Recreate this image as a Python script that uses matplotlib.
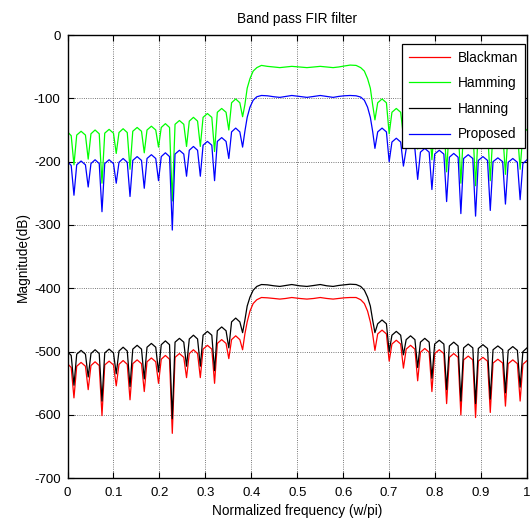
import matplotlib
matplotlib.use('Agg')
import matplotlib.pyplot as plt

plt.rcParams['font.family'] = ['Liberation Sans', 'DejaVu Sans']
plt.rcParams['axes.unicode_minus'] = False

# shared frequency grid (w/pi): nulls, lobe shoulders and lobe tops
freq = [0.000, 0.008,
        0.014, 0.020, 0.0295, 0.039,
        0.045, 0.051, 0.060, 0.069,
        0.075, 0.081, 0.0905, 0.100,
        0.106, 0.112, 0.121, 0.130,
        0.136, 0.142, 0.1515, 0.161,
        0.167, 0.173, 0.1825, 0.192,
        0.198, 0.204, 0.213, 0.222,
        0.228, 0.234, 0.2435, 0.253,
        0.259, 0.265, 0.274, 0.283,
        0.289, 0.295, 0.3045, 0.314,
        0.320, 0.326, 0.3355, 0.345,
        0.351, 0.357, 0.366, 0.375,
        0.381, 0.386, 0.391, 0.397, 0.404, 0.412, 0.422,
        0.435, 0.449, 0.462, 0.475, 0.488, 0.505, 0.521, 0.536, 0.550, 0.564, 0.578, 0.590, 0.602, 0.615,
        0.628, 0.638, 0.646, 0.653, 0.659, 0.664,
        0.669, 0.675, 0.6845, 0.694,
        0.700, 0.706, 0.7155, 0.725,
        0.731, 0.737, 0.7465, 0.756,
        0.762, 0.768, 0.7775, 0.787,
        0.793, 0.799, 0.809, 0.819,
        0.825, 0.831, 0.8405, 0.850,
        0.856, 0.862, 0.872, 0.882,
        0.888, 0.894, 0.904, 0.914,
        0.920, 0.926, 0.9365, 0.947,
        0.953, 0.959, 0.969, 0.979,
        0.985, 0.991, 1.000]

blackman = [-519, -525,
            -573, -523, -517, -523,
            -560, -522, -516, -522,
            -601, -521, -515, -521,
            -554, -520, -514, -520,
            -576, -519, -513, -519,
            -563, -516, -510, -516,
            -550, -512, -506, -512,
            -629, -509, -503, -509,
            -541, -503, -497, -503,
            -541, -496, -490, -496,
            -550, -487, -481, -487,
            -511, -481, -475, -481,
            -497, -472, -453, -436, -424, -418, -414.5,
            -415, -416, -417, -416, -414.5, -416, -417, -416, -414.5, -416, -417, -416, -415, -414.5,
            -414.5, -418, -424, -436, -453, -472,
            -498, -472, -466, -472,
            -515, -488, -482, -488,
            -526, -496, -490, -496,
            -546, -501, -495, -501,
            -563, -503, -497, -503,
            -582, -509, -503, -509,
            -600, -513, -507, -513,
            -604, -515, -509, -515,
            -596, -518, -512, -518,
            -586, -519, -513, -519,
            -578, -520, -514]

hamming = [-153, -159,
           -205, -158, -152, -158,
           -196, -156, -150, -156,
           -234, -155, -149, -155,
           -187, -154, -148, -154,
           -212, -152, -146, -152,
           -186, -150, -144, -150,
           -177, -146, -140, -146,
           -262, -141, -135, -141,
           -176, -136, -130, -136,
           -176, -130, -124, -130,
           -184, -122, -116, -122,
           -150, -107, -101, -107,
           -129, -110, -84, -69, -57, -51.5, -48,
           -49.5, -50.5, -51.5, -50.5, -49.5, -50.5, -51.5, -50.5, -49.5, -50.5, -51.5, -50.5, -49, -47.5,
           -48, -51.5, -57, -69, -84, -110,
           -134, -107, -101, -107,
           -156, -122, -116, -122,
           -160, -130, -124, -130,
           -180, -135, -129, -135,
           -197, -137, -131, -137,
           -216, -143, -137, -143,
           -234, -147, -141, -147,
           -238, -149, -143, -149,
           -230, -152, -146, -152,
           -220, -153, -147, -153,
           -212, -155, -149]

hanning = [-500, -506,
           -553, -504, -498, -504,
           -540, -503, -497, -503,
           -578, -502, -496, -502,
           -535, -499, -493, -499,
           -555, -496, -490, -496,
           -543, -493, -487, -493,
           -532, -489, -483, -489,
           -606, -485, -479, -485,
           -523, -480, -474, -480,
           -523, -474, -468, -474,
           -530, -467, -461, -467,
           -494, -453, -447, -453,
           -470, -450, -428, -414, -403, -397, -394,
           -394.5, -396, -397, -395.5, -394, -396, -397, -395.5, -394, -396, -397, -395.5, -394.5, -393.5,
           -394, -397, -403, -414, -428, -450,
           -470, -456, -450, -456,
           -500, -474, -468, -474,
           -505, -481, -475, -481,
           -525, -485, -479, -485,
           -542, -488, -482, -488,
           -560, -491, -485, -491,
           -578, -494, -488, -494,
           -582, -495, -489, -495,
           -575, -497, -491, -497,
           -565, -498, -492, -498,
           -556, -500, -494]

proposed = [-200, -206,
            -253, -205, -199, -205,
            -240, -203, -197, -203,
            -279, -203, -197, -203,
            -234, -201, -195, -201,
            -255, -198, -192, -198,
            -242, -195, -189, -195,
            -230, -192, -186, -192,
            -308, -188, -182, -188,
            -223, -182, -176, -182,
            -223, -174, -168, -174,
            -230, -168, -162, -168,
            -195, -153, -147, -153,
            -177, -152, -130, -114, -103, -97.5, -95.5,
            -96, -97.5, -98.5, -97, -95.5, -97, -98.5, -97, -95.5, -97, -98.5, -97, -96, -95.5,
            -96, -98, -103, -114, -130, -152,
            -179, -153, -147, -153,
            -200, -169, -163, -169,
            -207, -180, -174, -180,
            -228, -185, -179, -185,
            -244, -188, -182, -188,
            -263, -193, -187, -193,
            -282, -195, -189, -195,
            -286, -198, -192, -198,
            -277, -200, -194, -200,
            -267, -201, -195, -201,
            -260, -203, -197]

series = [('Blackman', blackman, '#ff0000'),
          ('Hamming', hamming, '#00ff00'),
          ('Hanning', hanning, '#000000'),
          ('Proposed', proposed, '#0000ff')]

xticks = [0, 0.1, 0.2, 0.3, 0.4, 0.5, 0.6, 0.7, 0.8, 0.9, 1]
xticklabels = ['0', '0.1', '0.2', '0.3', '0.4', '0.5', '0.6', '0.7', '0.8', '0.9', '1']
yticks = [0, -100, -200, -300, -400, -500, -600, -700]

fig = plt.figure(figsize=(5.30, 5.28), dpi=100)
ax = fig.add_axes([0.1274, 0.0941, 0.867, 0.8396])

for name, mag, col in series:
    ax.plot(freq, mag, color=col, linewidth=0.9, label=name)

ax.set_xlim(0, 1)
ax.set_ylim(-700, 0)
ax.set_xticks(xticks)
ax.set_xticklabels(xticklabels)
ax.set_yticks(yticks)
ax.tick_params(direction='in', length=4, width=0.8, labelsize=9.5, top=True, right=True)
ax.tick_params(axis='x', pad=6)
ax.tick_params(axis='y', pad=5)
ax.grid(True, linestyle=':', color='black', linewidth=0.6, alpha=0.7)
for sp in ax.spines.values():
    sp.set_linewidth(1.0)

ax.set_title('Band pass FIR filter', fontsize=9.8, pad=9)
ax.set_xlabel('Normalized frequency (w/pi)', fontsize=9.8, labelpad=4)
ax.set_ylabel('Magnitude(dB)', fontsize=9.8, labelpad=3)

leg = ax.legend(loc='upper right', bbox_to_anchor=(0.996, 0.98), borderaxespad=0,
                fontsize=9.8, handlelength=3.0, handletextpad=0.6, labelspacing=0.85,
                fancybox=False, edgecolor='black', framealpha=1, borderpad=0.5)
leg.get_frame().set_linewidth(0.9)

plt.savefig('out.png', dpi=100)
